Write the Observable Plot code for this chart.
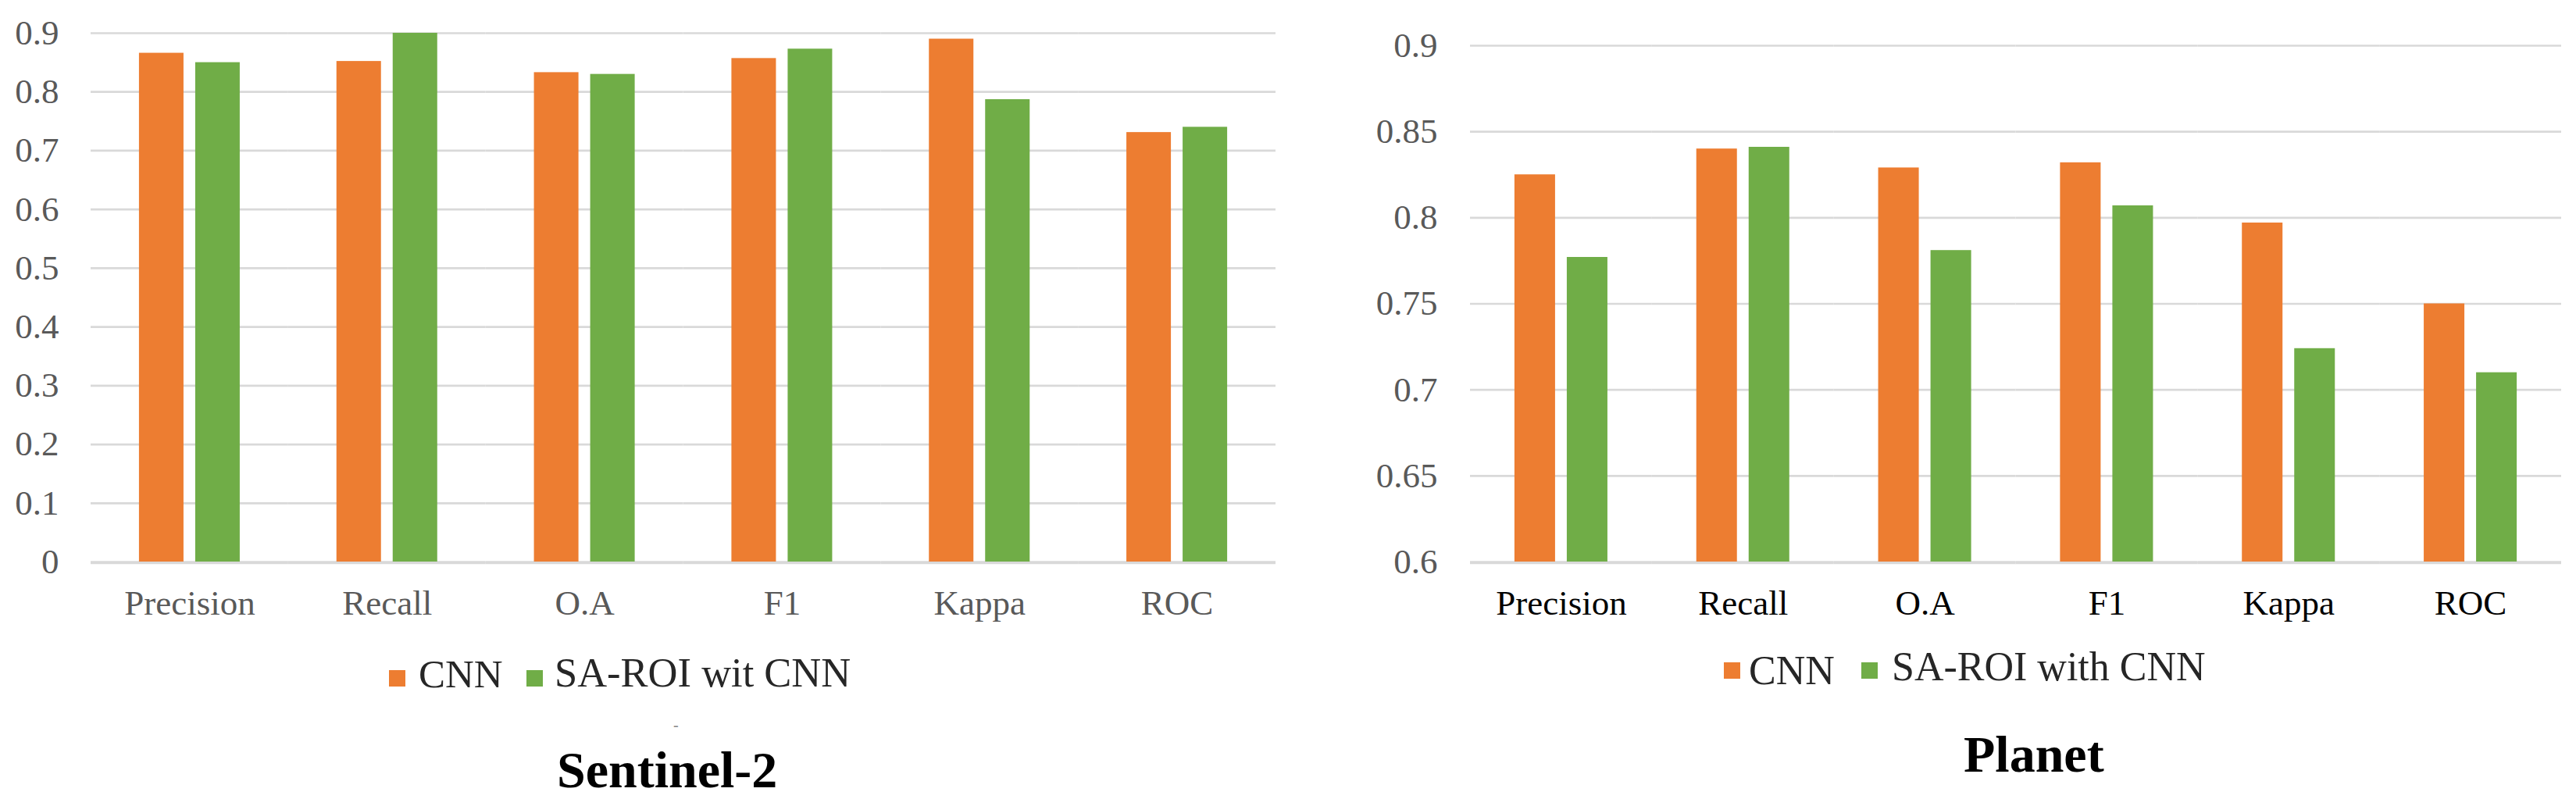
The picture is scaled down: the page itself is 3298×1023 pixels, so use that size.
<!DOCTYPE html>
<html>
<head>
<meta charset="utf-8">
<script src="https://cdn.jsdelivr.net/npm/d3@7"></script>
<script src="https://cdn.jsdelivr.net/npm/@observablehq/plot@0.6"></script>
<style>
  html, body { margin: 0; padding: 0; background: #fff; }
  body { width: 3298px; height: 1023px; position: relative; overflow: hidden; font-family: "Liberation Serif", "Times New Roman", serif; }
  .chart { position: absolute; top: 0; }
  .sw { position: absolute; width: 21px; height: 21px; }
  .lt { position: absolute; line-height: 1; white-space: nowrap; color: #262626; }
  .ttl { position: absolute; line-height: 1; white-space: nowrap; font-weight: bold; color: #000; }
  #right [aria-label^="fx-axis"] text { fill: #000; }
</style>
</head>
<body>
<div id="left" class="chart" style="left:0px"></div>
<div id="right" class="chart" style="left:1650px"></div>

<!-- legends & titles -->
<div class="sw" style="left:498px;top:858px;background:#ED7D31"></div>
<div class="lt" id="l1a" style="left:536px;top:838px;font-size:51px"></div>
<div class="sw" style="left:674px;top:858px;background:#70AD47"></div>
<div class="lt" id="l1b" style="left:710px;top:835px;font-size:52.5px"></div>
<div class="lt" style="left:862px;top:918px;font-size:20px;color:#888">-</div>
<div class="ttl" id="t1" style="left:713px;top:953px;font-size:66px"></div>

<div class="sw" style="left:2207px;top:848px;background:#ED7D31"></div>
<div class="lt" id="l2a" style="left:2239px;top:833px;font-size:52px"></div>
<div class="sw" style="left:2383px;top:848px;background:#70AD47"></div>
<div class="lt" id="l2b" style="left:2422px;top:828px;font-size:52px"></div>
<div class="ttl" id="t2" style="left:2514px;top:933px;font-size:66px"></div>

<script>
// ---- data ----
const metrics = ["Precision", "Recall", "O.A", "F1", "Kappa", "ROC"];

const sentinelSeries = ["CNN", "SA-ROI wit CNN"];
const sentinelCNN = [0.866, 0.852, 0.833, 0.857, 0.890, 0.731];
const sentinelSAROI = [0.850, 0.900, 0.830, 0.873, 0.787, 0.740];
const sentinelTicks = [0, 0.1, 0.2, 0.3, 0.4, 0.5, 0.6, 0.7, 0.8, 0.9];
const sentinelDomain = [0, 0.9];

const planetSeries = ["CNN", "SA-ROI with CNN"];
const planetCNN = [0.825, 0.840, 0.829, 0.832, 0.797, 0.750];
const planetSAROI = [0.777, 0.841, 0.781, 0.807, 0.724, 0.710];
const planetTicks = [0.6, 0.65, 0.7, 0.75, 0.8, 0.85, 0.9];
const planetDomain = [0.6, 0.9];

const seriesColors = ["#ED7D31", "#70AD47"];
const titles = ["Sentinel-2", "Planet"];

function rowsOf(series, a, b) {
  const rows = [];
  metrics.forEach((m, i) => {
    rows.push({metric: m, series: series[0], value: a[i]});
    rows.push({metric: m, series: series[1], value: b[i]});
  });
  return rows;
}

function makeChart(opts) {
  const rows = rowsOf(opts.series, opts.a, opts.b);
  const base = opts.domain[0];
  return Plot.plot({
    width: opts.width,
    height: 800,
    marginLeft: opts.marginLeft,
    marginRight: opts.marginRight,
    marginTop: opts.marginTop,
    marginBottom: 81,
    style: {fontFamily: "Liberation Serif", fontSize: "45px", color: "#595959", background: "white", overflow: "visible"},
    fx: {domain: metrics, padding: 0, round: false, axis: "bottom", label: null, tickSize: 0, tickPadding: 36},
    x: {domain: opts.series, paddingInner: opts.pi, paddingOuter: opts.po, round: false, axis: null},
    y: {domain: opts.domain, ticks: opts.ticks, tickFormat: d => String(d), tickSize: 0, tickPadding: opts.tickPad, label: null},
    color: {domain: opts.series, range: seriesColors},
    marks: [
      Plot.ruleY(opts.ticks, {stroke: "#d9d9d9", strokeWidth: 2.7}),
      Plot.barY(rows, {fx: "metric", x: "series", y1: () => base, y2: "value", fill: "series"}),
      Plot.ruleY([base], {stroke: "#d9d9d9", strokeWidth: 2.7, dy: 1.5})
    ]
  });
}

document.getElementById("left").appendChild(makeChart({
  width: 1650, marginLeft: 116, marginRight: 17, marginTop: 42,
  series: sentinelSeries, a: sentinelCNN, b: sentinelSAROI,
  domain: sentinelDomain, ticks: sentinelTicks, tickPad: 41,
  pi: 0.2083, po: 0.8597
}));
document.getElementById("right").appendChild(makeChart({
  width: 1648, marginLeft: 232, marginRight: 19, marginTop: 58,
  series: planetSeries, a: planetCNN, b: planetSAROI,
  domain: planetDomain, ticks: planetTicks, tickPad: 42,
  pi: 0.2239, po: 0.849
}));

document.getElementById("l1a").textContent = sentinelSeries[0];
document.getElementById("l1b").textContent = sentinelSeries[1];
document.getElementById("l2a").textContent = planetSeries[0];
document.getElementById("l2b").textContent = planetSeries[1];
document.getElementById("t1").textContent = titles[0];
document.getElementById("t2").textContent = titles[1];
</script>
</body>
</html>
